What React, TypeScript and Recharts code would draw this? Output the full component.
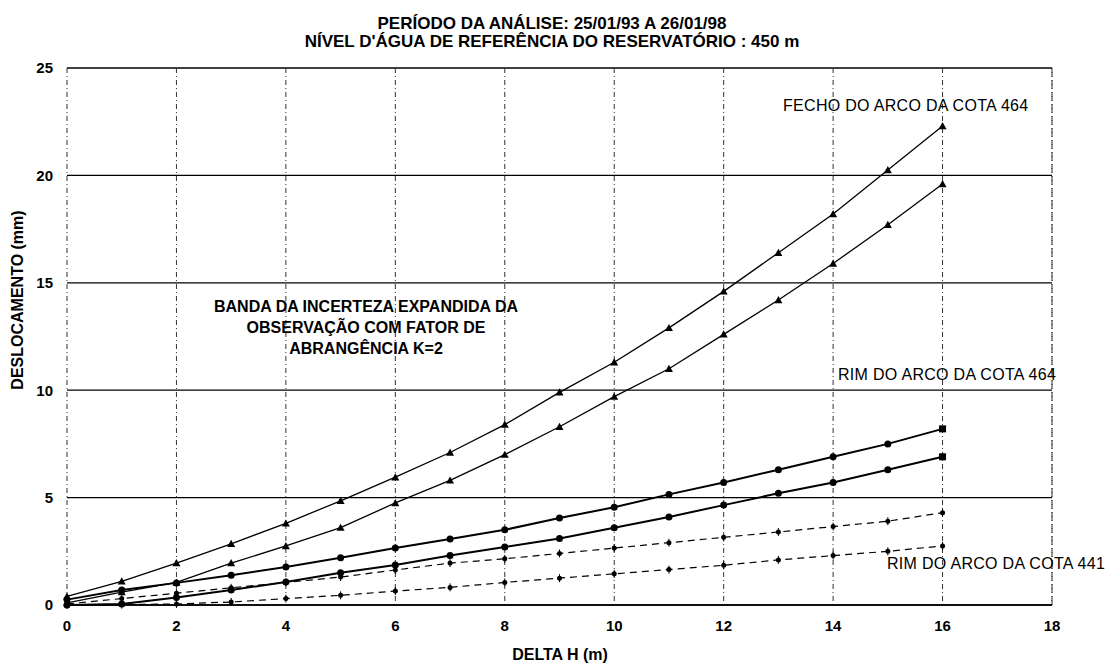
import React from "react";
import {
  ComposedChart,
  Line,
  XAxis,
  YAxis,
  CartesianGrid,
  ReferenceLine,
} from "recharts";

const deltaH: number[] = [0, 1, 2, 3, 4, 5, 6, 7, 8, 9, 10, 11, 12, 13, 14, 15, 16];

const fecho464Upper: number[] = [0.4, 1.1, 1.95, 2.85, 3.8, 4.85, 5.95, 7.1, 8.4, 9.9, 11.3, 12.9, 14.6, 16.4, 18.2, 20.25, 22.3];
const fecho464Lower: number[] = [0.1, 0.6, 1.05, 1.95, 2.75, 3.6, 4.75, 5.8, 7.0, 8.3, 9.7, 11.0, 12.6, 14.2, 15.9, 17.7, 19.6];
const rim464Upper: number[] = [0.25, 0.7, 1.03, 1.38, 1.77, 2.2, 2.65, 3.07, 3.5, 4.05, 4.55, 5.15, 5.7, 6.3, 6.9, 7.5, 8.2];
const rim464Lower: number[] = [0.0, 0.05, 0.35, 0.7, 1.07, 1.5, 1.86, 2.3, 2.7, 3.1, 3.6, 4.1, 4.65, 5.2, 5.7, 6.3, 6.9];
const rim441Upper: number[] = [0.05, 0.3, 0.55, 0.8, 1.05, 1.3, 1.63, 1.95, 2.15, 2.4, 2.65, 2.9, 3.15, 3.4, 3.65, 3.9, 4.3];
const rim441Lower: number[] = [0.0, 0.02, 0.05, 0.14, 0.3, 0.45, 0.65, 0.82, 1.05, 1.25, 1.45, 1.65, 1.85, 2.1, 2.3, 2.5, 2.75];

const xTicks: number[] = [0, 2, 4, 6, 8, 10, 12, 14, 16, 18];
const yTicks: number[] = [0, 5, 10, 15, 20, 25];

const titleLines: string[] = [
  "PERÍODO DA ANÁLISE: 25/01/93 A 26/01/98",
  "NÍVEL D'ÁGUA DE REFERÊNCIA DO RESERVATÓRIO : 450 m",
];
const bandLines: string[] = [
  "BANDA DA INCERTEZA EXPANDIDA DA",
  "OBSERVAÇÃO COM FATOR DE",
  "ABRANGÊNCIA K=2",
];
const seriesLabels: string[] = [
  "FECHO DO ARCO DA COTA 464",
  "RIM DO ARCO DA COTA 464",
  "RIM DO ARCO DA COTA 441",
];

const data = deltaH.map((x, i) => ({
  x,
  fu: fecho464Upper[i],
  fl: fecho464Lower[i],
  ru: rim464Upper[i],
  rl: rim464Lower[i],
  lu: rim441Upper[i],
  ll: rim441Lower[i],
}));

const FONT = "'Liberation Sans', Arial, sans-serif";

const TriangleDot = (props: any) => {
  const { cx, cy } = props;
  if (cx == null || cy == null) return null;
  const s = 4;
  return (
    <path
      d={`M${cx},${cy - s} L${cx + s},${cy + s * 0.8} L${cx - s},${cy + s * 0.8} Z`}
      fill="#000"
    />
  );
};

const RoundDot = (props: any) => {
  const { cx, cy, index } = props;
  if (cx == null || cy == null) return null;
  if (index === deltaH.length - 1) {
    return <rect x={cx - 3.5} y={cy - 3.5} width={7} height={7} fill="#000" />;
  }
  return <circle cx={cx} cy={cy} r={3.5} fill="#000" />;
};

const SmallDot = (props: any) => {
  const { cx, cy } = props;
  if (cx == null || cy == null) return null;
  return (
    <g>
      <circle cx={cx} cy={cy} r={2.5} fill="#000" />
      <line x1={cx} y1={cy - 4} x2={cx} y2={cy + 4} stroke="#000" strokeWidth={1} />
    </g>
  );
};

const tickStyle = { fontSize: 15, fontWeight: 700, fill: "#000", fontFamily: FONT };

export default function App() {
  return (
    <div
      style={{
        position: "absolute",
        left: 0,
        top: 0,
        width: 1120,
        height: 666,
        background: "#fff",
        fontFamily: FONT,
        color: "#000",
      }}
    >
      <ComposedChart
        width={1120}
        height={666}
        data={data}
        margin={{ top: 68, right: 68, left: 0, bottom: 31 }}
      >
        <CartesianGrid vertical={false} stroke="#000" strokeWidth={1.3} />
        <CartesianGrid horizontal={false} stroke="#333" strokeWidth={1} strokeDasharray="5 3 1 3" />
        <XAxis
          dataKey="x"
          type="number"
          domain={[0, 18]}
          ticks={xTicks}
          axisLine={false}
          tickLine={false}
          tickMargin={9}
          height={30}
          tick={tickStyle}
          interval={0}
        />
        <YAxis
          type="number"
          domain={[0, 25]}
          ticks={yTicks}
          axisLine={false}
          tickLine={false}
          tickMargin={8}
          width={67}
          tick={tickStyle}
          interval={0}
        />
        <ReferenceLine x={18} stroke="#333" strokeDasharray="5 3 1 3" />
        <ReferenceLine y={0} stroke="#000" strokeWidth={1.6} />
        <Line dataKey="fu" stroke="#000" strokeWidth={1.3} dot={<TriangleDot />} isAnimationActive={false} />
        <Line dataKey="fl" stroke="#000" strokeWidth={1.3} dot={<TriangleDot />} isAnimationActive={false} />
        <Line dataKey="ru" stroke="#000" strokeWidth={2} dot={<RoundDot />} isAnimationActive={false} />
        <Line dataKey="rl" stroke="#000" strokeWidth={2} dot={<RoundDot />} isAnimationActive={false} />
        <Line
          dataKey="lu"
          stroke="#000"
          strokeWidth={1.2}
          strokeDasharray="7 5"
          dot={<SmallDot />}
          isAnimationActive={false}
        />
        <Line
          dataKey="ll"
          stroke="#000"
          strokeWidth={1.2}
          strokeDasharray="7 5"
          dot={<SmallDot />}
          isAnimationActive={false}
        />
      </ComposedChart>

      {/* Title */}
      <div
        style={{
          position: "absolute",
          left: 252,
          width: 600,
          top: 15,
          textAlign: "center",
          fontWeight: 700,
          fontSize: 17,
          lineHeight: "18px",
          whiteSpace: "nowrap",
        }}
      >
        {titleLines.map((t) => (
          <div key={t}>{t}</div>
        ))}
      </div>

      {/* Band annotation */}
      <div
        style={{
          position: "absolute",
          left: 166,
          width: 400,
          top: 296,
          textAlign: "center",
          fontWeight: 700,
          fontSize: 16,
          lineHeight: "21px",
          whiteSpace: "nowrap",
        }}
      >
        {bandLines.map((t) => (
          <div key={t}>{t}</div>
        ))}
      </div>

      {/* Series labels */}
      <div style={{ position: "absolute", left: 783, top: 97, fontSize: 16, letterSpacing: 0.3, whiteSpace: "nowrap" }}>
        {seriesLabels[0]}
      </div>
      <div style={{ position: "absolute", left: 838, top: 366, fontSize: 16, letterSpacing: 0.3, whiteSpace: "nowrap" }}>
        {seriesLabels[1]}
      </div>
      <div style={{ position: "absolute", left: 887, top: 555, fontSize: 16, letterSpacing: 0.3, whiteSpace: "nowrap" }}>
        {seriesLabels[2]}
      </div>

      {/* Axis titles */}
      <div
        style={{
          position: "absolute",
          left: 460,
          width: 200,
          top: 646,
          textAlign: "center",
          fontWeight: 700,
          fontSize: 16,
          whiteSpace: "nowrap",
        }}
      >
        DELTA H (m)
      </div>
      <div
        style={{
          position: "absolute",
          left: 18,
          top: 300,
          fontWeight: 700,
          fontSize: 16,
          whiteSpace: "nowrap",
          transform: "translate(-50%, -50%) rotate(-90deg)",
        }}
      >
        DESLOCAMENTO (mm)
      </div>
    </div>
  );
}
